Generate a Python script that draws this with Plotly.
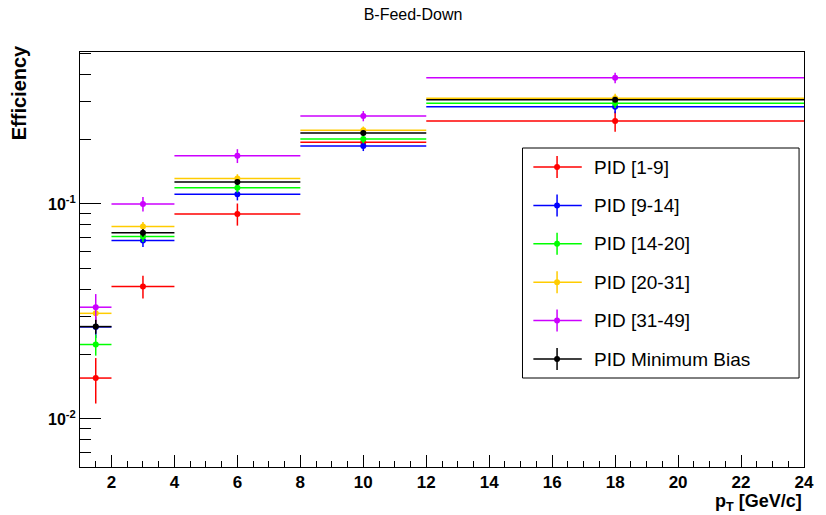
import plotly.graph_objects as go
import numpy as np

# ---------------- data ----------------
bin_lo = [1, 2, 4, 8, 12]
bin_hi = [2, 4, 8, 12, 24]
series_names = ["PID [1-9]", "PID [9-14]", "PID [14-20]", "PID [20-31]", "PID [31-49]", "PID Minimum Bias"]
series_colors = ["#ff0000", "#0000ff", "#00ff00", "#ffcc00", "#cc00ff", "#000000"]

eff_1_9 = [0.0155, 0.0413, 0.0899, 0.1936, 0.2429]
err_1_9 = [0.0037, 0.0050, 0.0106, 0.0100, 0.0260]
eff_9_14 = [0.0268, 0.0676, 0.1109, 0.1862, 0.2834]
err_9_14 = [0.0030, 0.0045, 0.0070, 0.0100, 0.0190]
eff_14_20 = [0.0222, 0.0706, 0.1190, 0.2005, 0.2944]
err_14_20 = [0.0025, 0.0040, 0.0060, 0.0090, 0.0150]
eff_20_31 = [0.0310, 0.0785, 0.1315, 0.2201, 0.3105]
err_20_31 = [0.0030, 0.0040, 0.0060, 0.0090, 0.0150]
eff_31_49 = [0.0331, 0.1000, 0.1674, 0.2564, 0.3860]
err_31_49 = [0.0050, 0.0077, 0.0124, 0.0140, 0.0220]
eff_mb = [0.0269, 0.0734, 0.1264, 0.2138, 0.3053]
err_mb = [0.0020, 0.0030, 0.0040, 0.0060, 0.0080]

y_major_vals = [0.01, 0.1]
y_major_text = ["10<sup>-2</sup>", "10<sup>-1</sup>"]
x_tick_vals = [2, 4, 6, 8, 10, 12, 14, 16, 18, 20, 22, 24]

all_eff = [eff_1_9, eff_9_14, eff_14_20, eff_20_31, eff_31_49, eff_mb]
all_err = [err_1_9, err_9_14, err_14_20, err_20_31, err_31_49, err_mb]

centers = [(a + b) / 2 for a, b in zip(bin_lo, bin_hi)]
halfw = [(b - a) / 2 for a, b in zip(bin_lo, bin_hi)]

# ---------------- geometry ----------------
W, H = 826, 515
L, R, T, B = 80, 13, 52, 48
pw, ph = W - L - R, H - T - B


def px(x):
    return (x - L) / pw


def py(y):
    return (H - B - y) / ph


fig = go.Figure()
for name, col, eff, err in zip(series_names, series_colors, all_eff, all_err):
    fig.add_trace(go.Scatter(
        x=centers, y=eff, mode="markers", name=name,
        marker=dict(color=col, size=6, symbol="circle"),
        error_x=dict(type="data", array=halfw, color=col, thickness=1.5, width=0),
        error_y=dict(type="data", array=err, color=col, thickness=1.5, width=0),
        showlegend=False,
    ))

FONT = "Liberation Sans, Arial, sans-serif"

minor_y = [v * 10.0 ** e for e in (-3, -2, -1) for v in range(2, 10)]
minor_y = [v for v in minor_y if 0.0059 < v < 0.52 and v not in (0.01, 0.1)]

fig.update_layout(
    width=W, height=H,
    margin=dict(l=L, r=R, t=T, b=B),
    paper_bgcolor="white", plot_bgcolor="white",
    showlegend=False,
    title=dict(text="B-Feed-Down", x=0.5, xanchor="center", y=1 - 14 / H, yanchor="middle",
               font=dict(family=FONT, size=16, color="black")),
    xaxis=dict(
        range=[1, 24], tickmode="array", tickvals=x_tick_vals,
        ticks="inside", ticklen=12, tickwidth=1, tickcolor="black",
        minor=dict(dtick=0.5, tick0=0, ticks="inside", ticklen=6, tickwidth=1, tickcolor="black", showgrid=False),
        showline=True, linecolor="black", linewidth=1, mirror=True,
        showgrid=False, zeroline=False,
        tickfont=dict(family=FONT, size=17, color="black", weight="bold"),
    ),
    yaxis=dict(
        type="log", range=[np.log10(0.00598), np.log10(0.509)],
        tickmode="array", tickvals=y_major_vals, ticktext=y_major_text,
        ticks="inside", ticklen=21, tickwidth=1, tickcolor="black",
        minor=dict(tickmode="array", tickvals=minor_y, ticks="inside", ticklen=11, tickwidth=1, tickcolor="black", showgrid=False),
        showline=True, linecolor="black", linewidth=1, mirror=True,
        showgrid=False, zeroline=False,
        tickfont=dict(family=FONT, size=16, color="black", weight="bold"),
    ),
)

annotations = [
    dict(text="<b>Efficiency</b>", textangle=-90, xref="paper", yref="paper",
         x=px(18), y=py(43), xanchor="center", yanchor="top", showarrow=False,
         font=dict(family=FONT, size=20, color="black")),
    dict(text="<b>p<sub>T</sub> [GeV/c]</b>", xref="paper", yref="paper",
         x=px(813), y=py(489), xanchor="right", yanchor="top", showarrow=False,
         font=dict(family=FONT, size=18, color="black")),
]

shapes = []
# legend box
lx0, lx1, ly0, ly1 = 528, 808, 148, 378
shapes.append(dict(type="rect", xref="paper", yref="paper", x0=px(lx0), x1=px(lx1), y0=py(ly1), y1=py(ly0),
                   line=dict(color="black", width=1), fillcolor="white", layer="above"))
row_y0, row_dy = 167, 38.4
for i, (name, col) in enumerate(zip(series_names, series_colors)):
    yy = row_y0 + i * row_dy
    shapes.append(dict(type="line", xref="paper", yref="paper", x0=px(539), x1=px(588), y0=py(yy), y1=py(yy),
                       line=dict(color=col, width=1.5), layer="above"))
    shapes.append(dict(type="line", xref="paper", yref="paper", x0=px(563), x1=px(563), y0=py(yy - 11), y1=py(yy + 11),
                       line=dict(color=col, width=1.5), layer="above"))
    shapes.append(dict(type="circle", xref="paper", yref="paper", x0=px(560), x1=px(566), y0=py(yy + 3), y1=py(yy - 3),
                       line=dict(color=col, width=0), fillcolor=col, layer="above"))
    annotations.append(dict(text=name, xref="paper", yref="paper", x=px(598), y=py(yy),
                            xanchor="left", yanchor="middle", showarrow=False,
                            font=dict(family=FONT, size=19, color="black")))

fig.update_layout(shapes=shapes, annotations=annotations)
fig.write_html("out.html")
